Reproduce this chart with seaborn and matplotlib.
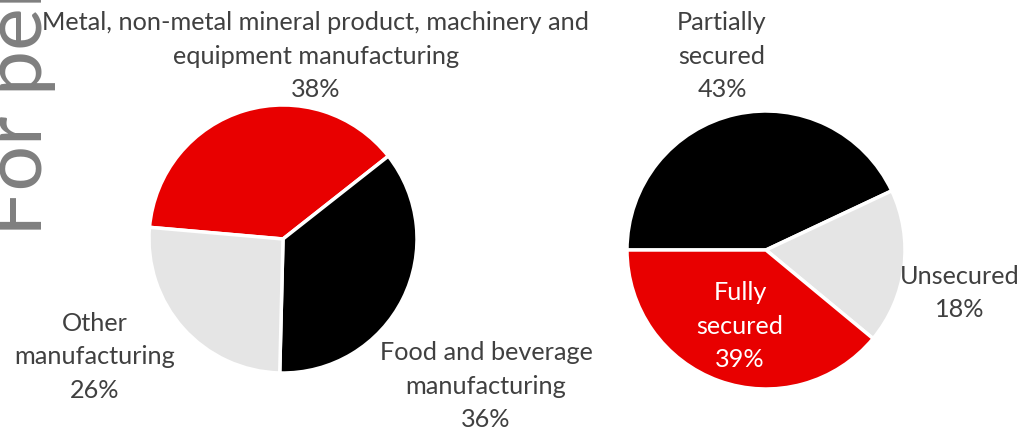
import matplotlib
matplotlib.use('Agg')
import matplotlib.pyplot as plt
import seaborn as sns

# datos de los dos graficos
sector_labels = ['Metal, non-metal mineral product, machinery and\nequipment manufacturing',
                 'Food and beverage\nmanufacturing',
                 'Other\nmanufacturing']
sector_values = [38, 36, 26]

security_labels = ['Partially\nsecured', 'Unsecured', 'Fully\nsecured']
security_values = [43, 18, 39]

RED = '#E80000'
BLACK = '#000000'
GREY = '#E5E5E5'
TEXT = '#404040'

sns.set_theme(style='white')
plt.rcParams['font.family'] = ['Lato', 'DejaVu Sans']

W, H = 1022, 430
fig = plt.figure(figsize=(W / 100, H / 100), dpi=100)
ax = fig.add_axes([0, 0, 1, 1])

wedge = dict(edgecolor='white', linewidth=2.5)

# pie izquierdo
ax.pie(sector_values, colors=[RED, BLACK, GREY], startangle=175,
       counterclock=False, center=(283, H - 239), radius=134,
       wedgeprops=wedge)
# pie derecho
ax.pie(security_values, colors=[BLACK, GREY, RED], startangle=180,
       counterclock=False, center=(766, H - 250), radius=139,
       wedgeprops=wedge)

ax.set_xlim(0, W)
ax.set_ylim(0, H)
ax.set_aspect('equal')
ax.axis('off')

# etiquetas
label_pos = {
    0: (316, 56), 1: (486, 386), 2: (95, 357),
}
for i, lab in enumerate(sector_labels):
    x, y = label_pos[i]
    ax.text(x, H - y, f'{lab}\n{sector_values[i]}%', ha='center', va='center',
            fontsize=18.2, color=TEXT, linespacing=1.56)

label_pos2 = {0: (722, 56), 1: (960, 293), 2: (740, 326)}
for i, lab in enumerate(security_labels):
    x, y = label_pos2[i]
    col = 'white' if i == 2 else TEXT
    ax.text(x, H - y, f'{lab}\n{security_values[i]}%', ha='center', va='center',
            fontsize=18.2, color=col, linespacing=1.56)

# marca de agua
ax.text(42, H - 236, 'For personal use only', rotation=90, rotation_mode='anchor',
        ha='left', va='baseline', fontsize=58, color='#7F7F7F',
        family=['Lato', 'DejaVu Sans'], fontweight='normal')

fig.savefig('out.png', dpi=100)
